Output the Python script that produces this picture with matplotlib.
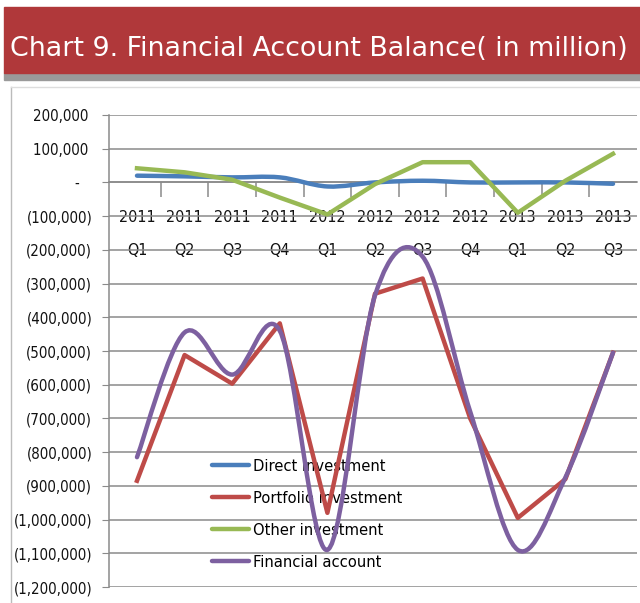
import matplotlib
matplotlib.use("Agg")
import matplotlib.pyplot as plt
from matplotlib.path import Path
from matplotlib.patches import PathPatch, Rectangle
from matplotlib.lines import Line2D
from matplotlib.ticker import FuncFormatter, FixedLocator
from matplotlib import font_manager
import numpy as np

categories = ["2011\nQ1", "2011\nQ2", "2011\nQ3", "2011\nQ4",
              "2012\nQ1", "2012\nQ2", "2012\nQ3", "2012\nQ4",
              "2013\nQ1", "2013\nQ2", "2013\nQ3"]
direct = [20000, 18000, 15000, 15000, -12000, 0, 5000, 0, 0, 0, -4000]
portfolio = [-885000, -512000, -597000, -418000, -980000, -330000, -285000,
             -700000, -995000, -880000, -505000]
other = [42000, 30000, 8000, -45000, -95000, -5000, 60000, 60000, -90000,
         5000, 85000]
financial = [-815000, -445000, -570000, -440000, -1090000, -335000, -220000,
             -680000, -1090000, -875000, -505000]
yticks = list(range(200000, -1200001, -100000))

if any(f.name == "Liberation Sans Narrow" for f in font_manager.fontManager.ttflist):
    FONT = ["Liberation Sans Narrow", "DejaVu Sans"]
    STRETCH = "normal"
else:
    FONT = ["DejaVu Sans"]
    STRETCH = "condensed"
plt.rcParams['font.family'] = FONT
plt.rcParams['font.stretch'] = STRETCH

fig = plt.figure(figsize=(6.4, 6.03), dpi=100)

# banner
fig.patches.append(Rectangle((4/640, 1-80/603), 636/640, 7/603,
                             transform=fig.transFigure, color="#9a9a9a", zorder=0))
fig.patches.append(Rectangle((4/640, 1-73/603), 636/640, 66/603,
                             transform=fig.transFigure, color="#B0383A", zorder=1))
fig.text(10/640, 1-49/603, "Chart 9. Financial Account Balance( in million)",
         color="white", fontsize=19.4, family=["DejaVu Sans"], stretch="normal",
         va="center", ha="left", zorder=3)
# frame
fig.add_artist(Line2D([11/640, 11/640], [0, 1-87/603], transform=fig.transFigure,
                      color="#bbbbbb", lw=1))
fig.add_artist(Line2D([11/640, 1], [1-87/603, 1-87/603], transform=fig.transFigure,
                      color="#dddddd", lw=1))

ax = fig.add_axes([109/640, 1-587/603, 528/640, 472/603])
x = np.arange(len(categories))
ax.set_xlim(-0.588, len(categories) - 0.496)
ax.set_ylim(-1200000, 200000)

def smooth_path(xs, ys):
    pts = np.column_stack([xs, ys]).astype(float)
    n = len(pts)
    verts = [pts[0]]
    codes = [Path.MOVETO]
    for i in range(n - 1):
        p0 = pts[i - 1] if i > 0 else pts[i]
        p1 = pts[i]
        p2 = pts[i + 1]
        p3 = pts[i + 2] if i + 2 < n else pts[i + 1]
        c1 = p1 + (p2 - p0) / 6.0
        c2 = p2 - (p3 - p1) / 6.0
        verts += [c1, c2, p2]
        codes += [Path.CURVE4] * 3
    return Path(verts, codes)

colors = {"Direct investment": "#4A7EBB", "Portfolio investment": "#BE4B48",
          "Other investment": "#98B954", "Financial account": "#7D60A0"}
LW = 3.2

ax.add_patch(PathPatch(smooth_path(x, direct), fill=False, lw=LW,
                       edgecolor=colors["Direct investment"], zorder=3,
                       capstyle="round", joinstyle="round"))
ax.plot(x, portfolio, color=colors["Portfolio investment"], lw=LW, zorder=3,
        solid_joinstyle="round")
ax.plot(x, other, color=colors["Other investment"], lw=LW, zorder=3,
        solid_joinstyle="round")
ax.add_patch(PathPatch(smooth_path(x, financial), fill=False, lw=LW,
                       edgecolor=colors["Financial account"], zorder=4,
                       capstyle="round", joinstyle="round"))

# grid / axes
ax.yaxis.set_major_locator(FixedLocator(yticks))
def fmt(v, pos):
    v = int(round(v))
    if v == 0:
        return "-   "
    if v < 0:
        return "({:,})".format(-v)
    return "{:,} ".format(v)
ax.yaxis.set_major_formatter(FuncFormatter(fmt))
ax.grid(axis="y", color="#8a8a8a", lw=1.1, zorder=1)
ax.set_axisbelow(True)
ax.tick_params(axis="y", length=5, color="#8a8a8a", labelsize=10.8, pad=7,
               labelcolor="#111111")
for s in ["top", "right"]:
    ax.spines[s].set_visible(False)
ax.spines["left"].set_color("#8a8a8a")
ax.spines["left"].set_linewidth(1.1)
ax.spines["bottom"].set_position(("data", 0))
ax.spines["bottom"].set_color("#8a8a8a")
ax.spines["bottom"].set_linewidth(1.1)

ax.set_xticks(x)
ax.set_xticklabels(categories, linespacing=2.45)
ax.set_xticks(np.arange(0.5, len(categories) - 0.5, 1), minor=True)
ax.tick_params(axis="x", which="major", length=0, labelsize=11.5, pad=20,
               labelcolor="#111111")
ax.tick_params(axis="x", which="minor", length=11, color="#8a8a8a", width=1.1)

handles = [Line2D([], [], color=c, lw=LW, solid_capstyle="round") for c in colors.values()]
leg = ax.legend(handles, list(colors.keys()), loc="upper left",
                bbox_to_anchor=(96/528, (587-452)/472), frameon=False,
                fontsize=11.8, handlelength=2.3, handletextpad=0.25,
                labelspacing=1.05, borderaxespad=0)
leg.set_zorder(2)

fig.savefig("out.png", dpi=100)
